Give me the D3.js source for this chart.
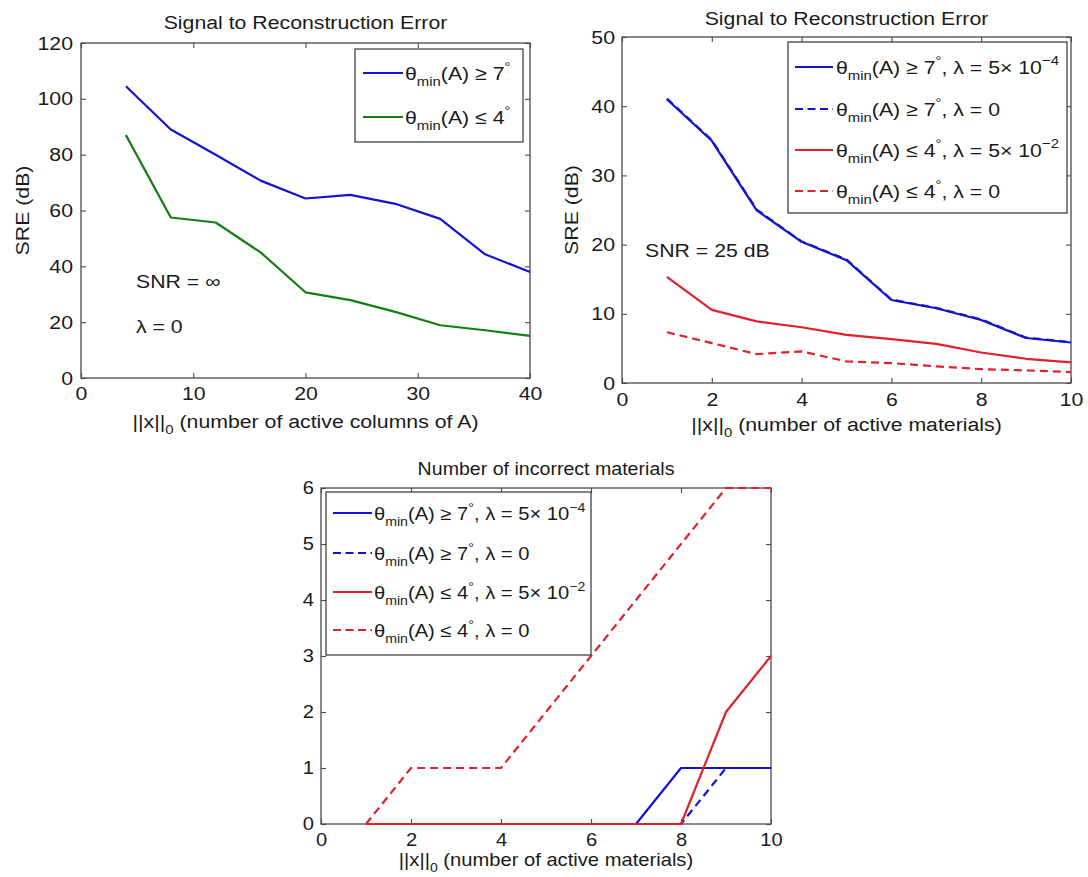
<!DOCTYPE html>
<html>
<head>
<meta charset="utf-8">
<script src="https://cdn.jsdelivr.net/npm/d3@7"></script>
<style>
  html, body { margin: 0; padding: 0; background: #fff; }
  svg { display: block; }
</style>
</head>
<body>
<svg id="chart" width="1088" height="877"></svg>
<script>
// ---------------- data ----------------
// Panel 1: SRE vs ||x||_0, SNR = inf, lambda = 0
const p1X = [4, 8, 12, 16, 20, 24, 28, 32, 36, 40];
const p1Wide = [104.5, 89, 80, 70.7, 64.3, 65.6, 62.4, 57, 44.3, 38];
const p1Narrow = [87, 57.5, 55.7, 45, 30.7, 27.9, 23.7, 18.9, 17.1, 15.1];
const p1XTicks = [0, 10, 20, 30, 40];
const p1YTicks = [0, 20, 40, 60, 80, 100, 120];

// Panel 2: SRE vs ||x||_0, SNR = 25 dB
const p2X = [1, 2, 3, 4, 5, 6, 7, 8, 9, 10];
const p2WideReg = [41.0, 35.0, 24.95, 20.4, 17.75, 12.0, 10.8, 9.1, 6.5, 5.85];
const p2WideZero = [41.1, 35.1, 25.05, 20.45, 17.85, 12.05, 10.85, 9.2, 6.55, 5.9];
const p2NarrowReg = [15.35, 10.56, 8.9, 8.06, 6.96, 6.33, 5.66, 4.41, 3.5, 2.98];
const p2NarrowZero = [7.34, 5.76, 4.17, 4.56, 3.12, 2.88, 2.4, 2.0, 1.82, 1.58];
const p2XTicks = [0, 2, 4, 6, 8, 10];
const p2YTicks = [0, 10, 20, 30, 40, 50];

// Panel 3: number of incorrect materials
const p3X = [1, 2, 3, 4, 5, 6, 7, 8, 9, 10];
const p3WideReg = [0, 0, 0, 0, 0, 0, 0, 1, 1, 1];
const p3WideZero = [0, 0, 0, 0, 0, 0, 0, 0, 1, 1];
const p3NarrowReg = [0, 0, 0, 0, 0, 0, 0, 0, 2, 3];
const p3NarrowZero = [0, 1, 1, 1, 2, 3, 4, 5, 6, 6];
const p3XTicks = [0, 2, 4, 6, 8, 10];
const p3YTicks = [0, 1, 2, 3, 4, 5, 6];

// text
const titleSRE = "Signal to Reconstruction Error";
const titleInc = "Number of incorrect materials";
const yLabel = "SRE (dB)";
const xLabel1 = [["||x||", ""], ["0", "sub"], [" (number of active columns of A)", ""]];
const xLabel2 = [["||x||", ""], ["0", "sub"], [" (number of active materials)", ""]];
const legend1 = [
  [["θ", ""], ["min", "sub"], ["(A) ≥ 7", ""], ["°", "sup"]],
  [["θ", ""], ["min", "sub"], ["(A) ≤ 4", ""], ["°", "sup"]]
];
const legend4 = [
  [["θ", ""], ["min", "sub"], ["(A) ≥ 7", ""], ["°", "sup"], [", λ = 5× 10", ""], ["−4", "sup"]],
  [["θ", ""], ["min", "sub"], ["(A) ≥ 7", ""], ["°", "sup"], [", λ = 0", ""]],
  [["θ", ""], ["min", "sub"], ["(A) ≤ 4", ""], ["°", "sup"], [", λ = 5× 10", ""], ["−2", "sup"]],
  [["θ", ""], ["min", "sub"], ["(A) ≤ 4", ""], ["°", "sup"], [", λ = 0", ""]]
];

// ---------------- style ----------------
const FONT = '"Liberation Sans", Arial, Helvetica, sans-serif';
const SX = 1.12;              // horizontal stretch of the reference's glyphs
const AXIS = "#4a4a4a";
const TXT = "#1a1a1a";
const BLUE = "#1212d2";
const GREEN = "#127f12";
const RED = "#e0202b";
const LW = 2.2;
const DASH = "8,5";
const TL = 5;

const svg = d3.select("#chart");
svg.append("rect").attr("width", 1088).attr("height", 877).attr("fill", "#fff");

function stretchedGroup(parent, x, y, rot) {
  return parent.append("g")
    .attr("transform", `translate(${x},${y})` + (rot ? ` rotate(${rot})` : "") + ` scale(${SX},1)`);
}

function plainText(parent, x, y, str, size, anchor, rot) {
  return stretchedGroup(parent, x, y, rot).append("text")
    .attr("font-family", FONT).attr("font-size", size).attr("fill", TXT)
    .attr("text-anchor", anchor || "start").text(str);
}

function richText(parent, x, y, parts, size, anchor) {
  const t = stretchedGroup(parent, x, y).append("text")
    .attr("font-family", FONT).attr("font-size", size).attr("fill", TXT)
    .attr("text-anchor", anchor || "start");
  let shift = 0;
  parts.forEach(([s, m]) => {
    const target = m === "sub" ? size * 0.32 : (m === "sup" ? -size * 0.45 : 0);
    t.append("tspan").attr("dy", target - shift)
      .attr("font-size", m ? size * 0.7 : size).text(s);
    shift = target;
  });
  return t;
}

function panel(cfg) {
  const x = d3.scaleLinear().domain(cfg.xDomain).range([cfg.left, cfg.right]);
  const y = d3.scaleLinear().domain(cfg.yDomain).range([cfg.bottom, cfg.top]);
  const g = svg.append("g");
  const fs = cfg.fs;

  g.append("rect").attr("x", cfg.left).attr("y", cfg.top)
    .attr("width", cfg.right - cfg.left).attr("height", cfg.bottom - cfg.top)
    .attr("fill", "#fff").attr("stroke", AXIS).attr("stroke-width", 1.3);

  const styleAxis = (sel) => {
    sel.select(".domain").remove();
    sel.selectAll(".tick line").attr("stroke", AXIS).attr("stroke-width", 1.1);
    sel.attr("font-family", FONT).attr("font-size", fs);
    sel.selectAll(".tick text").attr("fill", TXT);
  };

  const bx = g.append("g").attr("transform", `translate(0,${cfg.bottom})`)
    .call(d3.axisBottom(x).tickValues(cfg.xTicks).tickSizeInner(-TL).tickSizeOuter(0)
      .tickPadding(cfg.xPad).tickFormat(d3.format("d")));
  styleAxis(bx);
  bx.selectAll(".tick text").attr("transform", `scale(${SX},1)`);

  const ly = g.append("g").attr("transform", `translate(${cfg.left},0)`)
    .call(d3.axisLeft(y).tickValues(cfg.yTicks).tickSizeInner(-TL).tickSizeOuter(0)
      .tickPadding(cfg.yPad / SX).tickFormat(d3.format("d")));
  styleAxis(ly);
  ly.selectAll(".tick text").attr("transform", `scale(${SX},1)`);

  const tx = g.append("g").attr("transform", `translate(0,${cfg.top})`)
    .call(d3.axisTop(x).tickValues(cfg.xTicks).tickSizeInner(-TL).tickSizeOuter(0).tickFormat(""));
  styleAxis(tx);
  const ry = g.append("g").attr("transform", `translate(${cfg.right},0)`)
    .call(d3.axisRight(y).tickValues(cfg.yTicks).tickSizeInner(-TL).tickSizeOuter(0).tickFormat(""));
  styleAxis(ry);

  // series (legend order kept in cfg.series; drawing order via cfg.drawOrder)
  const order = cfg.drawOrder || cfg.series.map((d, i) => i);
  order.forEach(i => {
    const s = cfg.series[i];
    const line = d3.line().x((d, k) => x(s.x[k])).y(d => y(d));
    g.append("path").datum(s.y).attr("d", line)
      .attr("fill", "none").attr("stroke", s.color).attr("stroke-width", LW)
      .attr("stroke-dasharray", s.dash ? DASH : null)
      .attr("stroke-linejoin", "round");
  });

  // title
  plainText(g, (cfg.left + cfg.right) / 2, cfg.titleY, cfg.title, cfg.titleFs || fs, "middle");
  // x label
  richText(g, (cfg.left + cfg.right) / 2, cfg.xLabelY, cfg.xLabel, fs, "middle");
  // y label
  if (cfg.yLabel) {
    plainText(g, cfg.yLabelX, (cfg.top + cfg.bottom) / 2, cfg.yLabel, fs, "middle", -90);
  }

  // legend
  const L = cfg.legend;
  g.append("rect").attr("x", L.x0).attr("y", L.y0).attr("width", L.x1 - L.x0).attr("height", L.y1 - L.y0)
    .attr("fill", "#fff").attr("stroke", "#333").attr("stroke-width", 1.2);
  L.labels.forEach((lab, i) => {
    const s = cfg.series[i];
    const ry0 = L.rows[i];
    g.append("line").attr("x1", L.sx0).attr("x2", L.sx1).attr("y1", ry0).attr("y2", ry0)
      .attr("stroke", s.color).attr("stroke-width", LW)
      .attr("stroke-dasharray", s.dash ? "8,4.5" : null);
    richText(g, L.tx, ry0 + L.base, lab, L.fs, "start");
  });

  return { g, x, y };
}

// ---------------- panel 1 ----------------
const P1 = panel({
  left: 81, right: 530, top: 43, bottom: 378,
  xDomain: [0, 40], yDomain: [0, 120], xTicks: p1XTicks, yTicks: p1YTicks,
  fs: 19, xPad: 9, yPad: 8,
  title: titleSRE, titleY: 29,
  xLabel: xLabel1, xLabelY: 428,
  yLabel: yLabel, yLabelX: 29,
  series: [
    { x: p1X, y: p1Wide, color: BLUE },
    { x: p1X, y: p1Narrow, color: GREEN }
  ],
  legend: {
    x0: 355, x1: 523, y0: 49, y1: 142, rows: [73, 117], sx0: 363, sx1: 403, tx: 405, base: 7, fs: 19,
    labels: legend1
  }
});
plainText(P1.g, 136, 288, "SNR = ∞", 19, "start");
plainText(P1.g, 136, 333, "λ = 0", 19, "start");

// ---------------- panel 2 ----------------
const P2 = panel({
  left: 622, right: 1071, top: 37, bottom: 383,
  xDomain: [0, 10], yDomain: [0, 50], xTicks: p2XTicks, yTicks: p2YTicks,
  fs: 19, xPad: 10, yPad: 7,
  title: titleSRE, titleY: 25,
  xLabel: xLabel2, xLabelY: 431,
  yLabel: yLabel, yLabelX: 578,
  series: [
    { x: p2X, y: p2WideReg, color: BLUE },
    { x: p2X, y: p2WideZero, color: BLUE, dash: true },
    { x: p2X, y: p2NarrowReg, color: RED },
    { x: p2X, y: p2NarrowZero, color: RED, dash: true }
  ],
  drawOrder: [1, 0, 2, 3],
  legend: {
    x0: 788, x1: 1067, y0: 42, y1: 213, rows: [67, 109, 150, 191], sx0: 795, sx1: 833, tx: 836, base: 7, fs: 19,
    labels: legend4
  }
});
plainText(P2.g, 645, 257, "SNR = 25 dB", 19, "start");

// ---------------- panel 3 ----------------
const P3 = panel({
  left: 321, right: 771, top: 488, bottom: 824,
  xDomain: [0, 10], yDomain: [0, 6], xTicks: p3XTicks, yTicks: p3YTicks,
  fs: 18, xPad: 9, yPad: 7,
  title: titleInc, titleY: 475, titleFs: 17.5,
  xLabel: xLabel2, xLabelY: 866,
  yLabel: null,
  series: [
    { x: p3X, y: p3WideReg, color: BLUE },
    { x: p3X, y: p3WideZero, color: BLUE, dash: true },
    { x: p3X, y: p3NarrowReg, color: RED },
    { x: p3X, y: p3NarrowZero, color: RED, dash: true }
  ],
  legend: {
    x0: 326, x1: 591, y0: 492, y1: 655, rows: [513, 553, 592, 630], sx0: 333, sx1: 372, tx: 374, base: 7, fs: 18,
    labels: legend4
  }
});
</script>
</body>
</html>
